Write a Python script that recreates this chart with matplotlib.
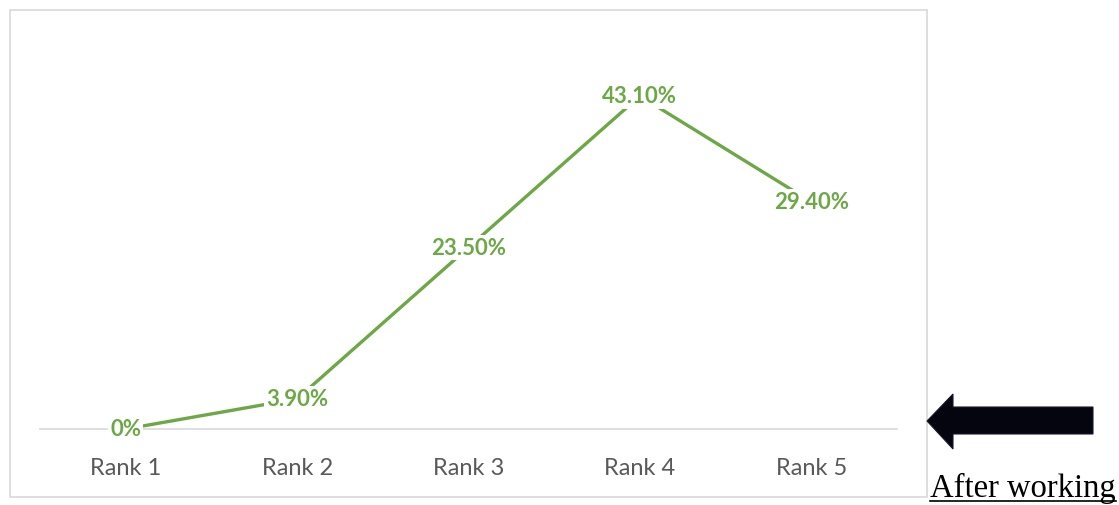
import matplotlib
matplotlib.use("Agg")
import matplotlib.pyplot as plt
from matplotlib.patches import Rectangle, Polygon
from matplotlib.lines import Line2D

categories = ["Rank 1", "Rank 2", "Rank 3", "Rank 4", "Rank 5"]
values = [0.0, 3.9, 23.5, 43.1, 29.4]
labels = ["0%", "3.90%", "23.50%", "43.10%", "29.40%"]

W, H = 1119, 506
fig = plt.figure(figsize=(W / 100, H / 100), dpi=100)
fig.patch.set_facecolor("white")

def fx(px):
    return px / W

def fy(py):
    return 1 - py / H

# chart area border
fig.add_artist(Rectangle((fx(10), fy(498)), fx(927) - fx(10), fy(11) - fy(498),
                         transform=fig.transFigure, fill=False,
                         edgecolor="#D9D9D9", linewidth=1.2))

ax_left, ax_right = 40, 897
ax_bottom, ax_top = 430, 20
ax = fig.add_axes([fx(ax_left), fy(ax_bottom), fx(ax_right) - fx(ax_left), fy(ax_top) - fy(ax_bottom)])
ax.set_facecolor("none")
px_per_unit = (430 - 97) / 43.1
ax.set_ylim(0, (ax_bottom - ax_top) / px_per_unit)
ax.set_xlim(-0.5, len(categories) - 0.5)

green = "#6CA845"
x = list(range(len(categories)))
ax.plot(x, values, color=green, linewidth=2.4, solid_capstyle="butt", zorder=2, clip_on=False)
for xi, v, lab in zip(x, values, labels):
    ax.text(xi, v, lab, ha="center", va="center", color=green, fontsize=16,
            fontweight="bold", family="Lato", zorder=3, clip_on=False,
            bbox=dict(boxstyle="square,pad=0.1", fc="white", ec="none"))

for s in ["top", "right", "left"]:
    ax.spines[s].set_visible(False)
ax.spines["bottom"].set_color("#D9D9D9")
ax.spines["bottom"].set_linewidth(1.2)
ax.spines["bottom"].set_zorder(1)
ax.set_yticks([])
ax.set_xticks(x)
ax.set_xticklabels(categories, family="Lato", fontsize=17, color="#595959")
ax.tick_params(axis="x", length=0, pad=20)

# arrow
arrow_px = [(927, 422), (953, 395), (953, 408), (1093, 408), (1093, 435), (953, 435), (953, 450)]
fig.add_artist(Polygon([(fx(a), fy(b)) for a, b in arrow_px], closed=True,
                       transform=fig.transFigure, facecolor="#050510", edgecolor="#1a1a2e", linewidth=0.8))

# After working text, underlined
t = fig.text(fx(930), fy(497), "After working", family="Liberation Serif", fontsize=23.5,
             color="black", ha="left", va="baseline")
fig.canvas.draw()
bb = t.get_window_extent()
fig.add_artist(Line2D([bb.x0 / W, bb.x1 / W], [fy(502), fy(502)], transform=fig.transFigure,
                      color="black", linewidth=1.2))

fig.savefig("out.png", dpi=100)
